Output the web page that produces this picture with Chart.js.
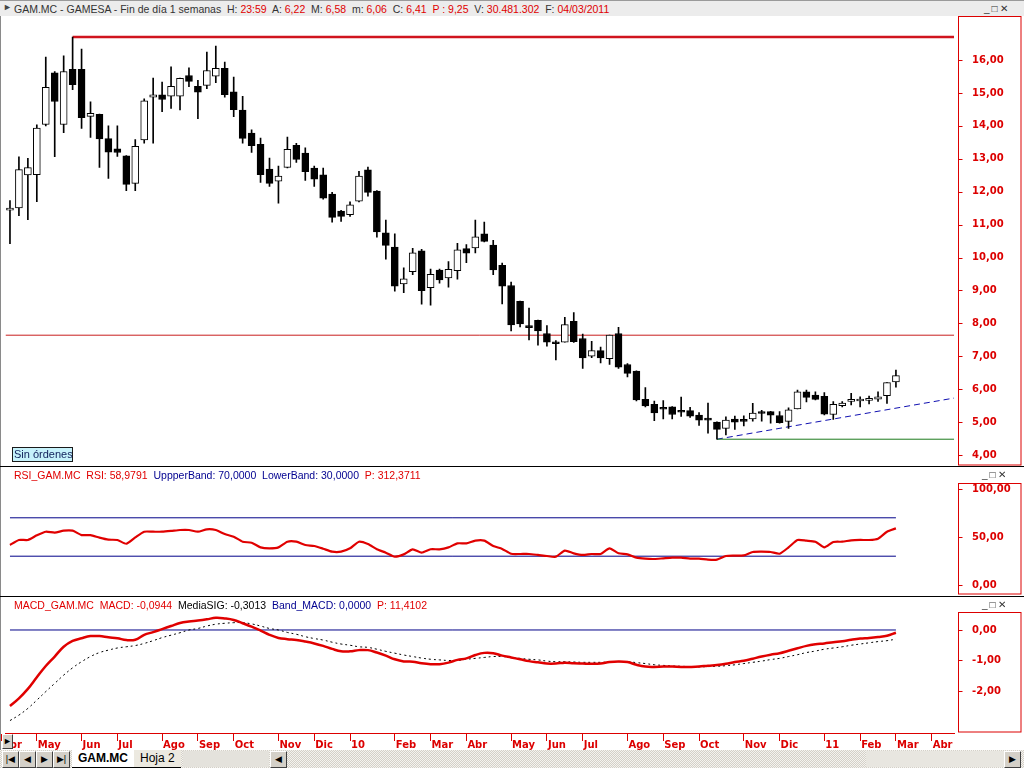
<!DOCTYPE html>
<html>
<head>
<meta charset="utf-8">
<script src="https://cdn.jsdelivr.net/npm/chart.js@4.4.1/dist/chart.umd.min.js"></script>
<style>
  body { margin: 0; width: 1024px; height: 768px; overflow: hidden; position: relative; background: #fff;
         font-family: "Liberation Sans", Arial, sans-serif; font-size: 10.5px; }
  .abs { position: absolute; }
  canvas { position: absolute; left: 0; }
  .r { color: #e00000; }
  .b { color: #000090; }
  .k { color: #000; }
  #hdr { left: 0; top: 0; width: 1024px; height: 15px; background: #ececec; border-top: 1px solid #9a9a9a; color: #333; }
  .title { white-space: pre; line-height: 12px; }
  .winbtn { width: 36px; height: 10px; font-size: 10px; line-height: 10px; color: #333; letter-spacing: 2px; }
  .sep { left: 0; width: 1024px; height: 1px; background: #000; }
  #sin { left: 12px; top: 447px; width: 58px; height: 13px; background: #c6f2fb; border: 1px solid #1a1a1a;
         color: #10205a; line-height: 13px; padding-left: 1px; white-space: nowrap; font-size: 11px; }
  #tabs { left: 0; top: 750px; width: 1024px; height: 18px;
          background: repeating-conic-gradient(#d4d0c8 0 25%, #f4f3ef 0 50%) 0 0 / 2px 2px; }
  .btn { top: 1px; width: 15px; height: 15px; background: #d4d0c8; border: 1px solid; border-color: #fff #404040 #404040 #fff;
         font-size: 9px; line-height: 15px; text-align: center; color: #000; }
  .tab { top: 0; height: 17px; line-height: 17px; font-size: 12px; padding: 0 6px; }
</style>
</head>
<body>
<div id="hdr" class="abs">
  <span class="abs" style="left:3px;top:1px;font-size:9px;color:#444">&#9658;</span>
  <span class="abs title" style="left:14px;top:2px">GAM.MC - GAMESA - Fin de día 1 semanas  H: <span class="r">23:59</span>  A: <span class="r">6,22</span>  M: <span class="r">6,58</span>  m: <span class="r">6,06</span>  C: <span class="r">6,41</span>  <span class="r">P : 9,25</span>  V: <span class="r">30.481.302</span>  F: <span class="r">04/03/2011</span></span>
  <span class="abs winbtn" style="left:984px;top:3px">_&#9633;&#10005;</span>
</div>
<div class="abs" style="left:0;top:16px;width:1px;height:734px;background:#8a8a8a"></div>

<canvas id="main" width="1024" height="450" style="top:16px"></canvas>
<div id="sin" class="abs">Sin órdenes</div>
<div class="abs sep" style="top:466px"></div>

<canvas id="rsi" width="1024" height="129" style="top:467px"></canvas>
<div class="abs title" style="left:14px;top:469px"><span class="r">RSI_GAM.MC  RSI: 58,9791</span>  <span class="b">UppperBand: 70,0000</span>  <span class="b">LowerBand: 30,0000</span>  <span class="r">P: 312,3711</span></div>
<span class="abs winbtn" style="left:982px;top:470px">_&#9633;&#10005;</span>
<div class="abs sep" style="top:596px"></div>

<canvas id="macd" width="1024" height="153" style="top:597px"></canvas>
<div class="abs title" style="left:14px;top:599px"><span class="r">MACD_GAM.MC  MACD: -0,0944</span>  <span class="k">MediaSIG: -0,3013</span>  <span class="b">Band_MACD: 0,0000</span>  <span class="r">P: 11,4102</span></div>
<span class="abs winbtn" style="left:982px;top:600px">_&#9633;&#10005;</span>
<div class="abs btn" style="left:2px;top:734px;width:9px;height:13px;line-height:13px">&#9658;</div>

<div id="tabs" class="abs">
  <div class="abs btn" style="left:2px">|&#9664;</div>
  <div class="abs btn" style="left:19px">&#9664;</div>
  <div class="abs btn" style="left:36px">&#9654;</div>
  <div class="abs btn" style="left:53px">&#9654;|</div>
  <div class="abs tab" style="left:72px;background:#fff;font-weight:bold;border-bottom:1px solid #000">GAM.MC</div>
  <div class="abs tab" style="left:134px;background:#ece9e0;border-bottom:1px solid #000">Hoja 2</div>
  <div class="abs" style="left:183px;top:1px;width:86px;height:16px;background:#e4e2dc"></div>
  <div class="abs btn" style="left:270px">&#9664;</div>
  <div class="abs" style="left:866px;top:1px;width:138px;height:16px;background:#e8e6e0"></div>
  <div class="abs btn" style="left:1004px">&#9654;</div>
</div>

<script>
// weekly candles, first one = week ending 10/04/2009, last one = week ending 04/03/2011
const opens  = [11.44,11.51,12.51,12.52,14.04,15.61,14.04,15.72,15.72,14.29,14.35,13.61,13.30,13.09,12.25,13.57,14.87,14.94,14.90,14.90,
                15.53,15.20,15.23,15.51,15.75,15.03,14.48,13.78,13.44,12.69,12.32,12.74,13.41,13.17,12.72,12.51,11.93,11.41,11.30,11.71,
                12.66,12.02,10.75,10.32,9.20,9.57,10.20,9.08,9.62,9.38,9.60,10.27,10.29,10.72,10.38,9.76,9.15,8.67,7.89,8.09,
                7.69,7.40,7.43,8.06,7.54,7.00,7.17,6.93,7.69,6.75,6.55,5.69,5.54,5.41,5.46,5.32,5.35,5.21,5.08,5.00,
                4.81,5.09,5.04,5.10,5.31,5.32,5.20,5.02,5.40,5.92,5.82,5.78,5.23,5.50,5.63,5.64,5.66,5.70,5.80,6.22];
const highs  = [11.73,13.06,13.01,14.03,16.09,15.65,16.13,16.70,16.33,14.73,14.36,14.00,14.00,13.10,13.58,14.82,15.45,15.33,15.79,15.45,
                15.76,15.38,16.24,16.42,15.94,15.48,14.90,13.88,13.63,13.02,12.78,13.66,13.47,13.33,12.78,12.72,11.98,11.43,11.69,12.62,
                12.75,12.03,11.14,10.72,9.69,10.28,10.25,9.65,9.65,9.88,10.43,10.39,11.14,11.08,10.52,9.83,9.25,8.68,8.46,8.10,
                7.93,7.48,8.18,8.33,7.67,7.45,7.28,7.64,7.88,6.78,6.56,6.05,5.64,5.65,5.47,5.76,5.45,5.29,5.58,5.01,
                5.16,5.18,5.19,5.57,5.36,5.33,5.32,5.43,5.97,5.97,5.92,5.90,5.62,5.62,5.87,5.77,5.79,5.92,6.20,6.58];
const lows   = [10.42,11.27,11.15,11.70,14.00,13.06,13.79,15.10,13.92,13.65,12.74,12.40,13.07,12.03,12.03,13.47,13.47,14.43,14.53,14.48,
                15.19,14.22,15.13,15.31,14.87,14.28,13.47,13.19,12.28,12.16,11.65,12.72,12.89,12.34,12.16,11.77,11.07,11.10,11.25,11.69,
                11.86,10.62,9.95,8.98,8.93,9.48,8.58,8.55,9.22,9.10,9.34,9.84,10.14,10.47,9.48,8.59,7.77,7.89,7.50,7.34,
                7.31,6.89,7.43,7.42,6.63,6.96,6.80,6.75,6.63,6.37,5.64,5.46,5.04,5.10,5.10,5.17,5.14,4.90,4.66,4.48,
                4.61,4.78,4.88,5.03,5.03,4.97,4.97,4.81,5.40,5.61,5.67,5.22,5.08,5.46,5.52,5.46,5.55,5.63,5.57,6.06];
const closes = [11.46,12.67,12.73,13.93,15.17,14.74,15.65,15.25,14.25,14.38,13.60,13.20,13.19,12.22,13.38,14.76,14.94,14.80,15.20,15.44,
                15.35,15.02,15.68,15.75,14.95,14.49,13.62,13.40,12.52,12.25,12.47,13.29,12.98,12.61,12.38,11.80,11.22,11.25,11.60,12.47,
                11.98,10.78,10.37,9.13,9.35,10.14,8.99,9.49,9.32,9.64,10.23,10.13,10.63,10.49,9.62,9.13,7.95,7.98,7.87,7.77,
                7.43,7.38,7.96,7.44,6.95,7.17,6.95,7.64,6.67,6.48,5.67,5.49,5.28,5.39,5.23,5.30,5.18,5.06,5.06,4.78,
                5.06,5.00,5.02,5.27,5.26,5.21,4.98,5.37,5.92,5.75,5.69,5.24,5.54,5.58,5.65,5.66,5.68,5.77,6.20,6.41];

const rsi = [41.7,46.9,46.9,51.7,55.5,54.5,56.6,56.6,52.0,52.0,49.3,47.2,46.9,43.0,49.6,55.5,55.5,55.5,56.3,57.3,
             57.3,55.5,58.0,57.3,53.1,50.3,45.1,44.0,39.2,38.2,39.2,45.1,45.1,41.7,40.6,37.8,34.7,34.7,38.2,45.1,
             42.7,37.2,33.7,29.5,31.9,37.2,33.7,37.2,37.2,39.2,43.4,43.4,46.2,46.2,40.6,37.6,32.5,32.3,32.3,31.3,
             30.2,29.5,35.8,33.0,31.3,32.3,32.3,38.2,33.0,31.9,28.5,27.4,27.1,27.8,28.5,28.5,27.4,27.4,26.4,26.4,
             30.2,30.6,30.9,34.4,34.7,34.4,32.6,39.2,46.9,46.2,45.1,39.2,44.8,45.1,46.5,46.9,46.9,48.3,55.5,59.0];
const rsiBands = [70, 30];

const macd = [-2.49,-2.24,-1.93,-1.55,-1.18,-0.87,-0.55,-0.36,-0.27,-0.20,-0.20,-0.24,-0.27,-0.33,-0.32,-0.16,-0.07,0.03,0.13,0.23,
              0.28,0.31,0.35,0.40,0.38,0.33,0.22,0.11,-0.02,-0.16,-0.26,-0.30,-0.33,-0.38,-0.44,-0.52,-0.62,-0.70,-0.70,-0.66,
              -0.66,-0.74,-0.84,-0.96,-1.03,-1.04,-1.09,-1.12,-1.12,-1.07,-0.98,-0.93,-0.82,-0.75,-0.76,-0.84,-0.90,-0.96,-1.02,-1.06,
              -1.10,-1.10,-1.07,-1.09,-1.10,-1.11,-1.10,-1.05,-1.03,-1.05,-1.14,-1.20,-1.21,-1.20,-1.20,-1.21,-1.21,-1.20,-1.17,-1.15,
              -1.11,-1.05,-1.01,-0.94,-0.87,-0.81,-0.76,-0.68,-0.60,-0.52,-0.47,-0.44,-0.40,-0.37,-0.32,-0.28,-0.26,-0.23,-0.19,-0.09];
const signal = [-2.97,-2.79,-2.57,-2.30,-2.02,-1.75,-1.48,-1.24,-1.04,-0.87,-0.74,-0.66,-0.59,-0.55,-0.51,-0.44,-0.35,-0.25,-0.17,-0.09,
                0.00,0.05,0.13,0.19,0.22,0.24,0.24,0.20,0.13,0.05,0.00,-0.08,-0.14,-0.22,-0.28,-0.33,-0.40,-0.46,-0.50,-0.55,
                -0.57,-0.63,-0.70,-0.76,-0.82,-0.87,-0.92,-0.96,-0.98,-1.00,-1.00,-0.96,-0.93,-0.90,-0.87,-0.87,-0.90,-0.93,-0.96,-0.98,
                -1.02,-1.04,-1.04,-1.05,-1.06,-1.06,-1.06,-1.05,-1.04,-1.04,-1.07,-1.10,-1.14,-1.16,-1.18,-1.19,-1.20,-1.21,-1.20,-1.19,
                -1.17,-1.14,-1.10,-1.06,-1.02,-0.97,-0.93,-0.87,-0.81,-0.74,-0.69,-0.63,-0.59,-0.55,-0.50,-0.46,-0.42,-0.38,-0.35,-0.30];
const macdBand = [0];

// drawn levels: [value at start, value at end]
const topLine = [16.70, 16.70];
const midLine = [7.64, 7.64];
const supportLine = [4.48, 4.48];
const trendLine = [4.48, 5.73];

const priceTicks = [4, 5, 6, 7, 8, 9, 10, 11, 12, 13, 14, 15, 16];
const rsiTicks = [0, 50, 100];
const macdTicks = [-2, -1, 0];
const monthNames = ['', 'Feb', 'Mar', 'Abr', 'May', 'Jun', 'Jul', 'Ago', 'Sep', 'Oct', 'Nov', 'Dic'];

const RED = '#dc0000';
const NAVY = '#000088';
const AXIS_FONT = { family: 'DejaVu Sans', size: 10, weight: 'bold' };

// week slots: slot 0 = Friday 03/04/2009, candles sit in slots 1..100, axis runs to slot 106
const weeks = [];
for (let k = 0; k <= 106; k++) weeks.push(new Date(Date.UTC(2009, 3, 3 + 7 * k)));
const monthTicks = {};
weeks.forEach((d, k) => {
  if (k === 0 || d.getUTCMonth() !== weeks[k - 1].getUTCMonth()) {
    const m = d.getUTCMonth();
    monthTicks[k] = m === 0 ? String(d.getUTCFullYear() % 100) : monthNames[m];
  }
});

const X_MIN = 0.5, X_MAX = 106.5;
const comma = (v) => v.toFixed(2).replace('.', ',');
const pts = (arr) => arr.map((v, i) => ({ x: i + 1, y: v }));

// red box round the value axis, with the small tick dashes
const axisBox = {
  id: 'axisBox',
  afterDraw(chart) {
    const { ctx, chartArea } = chart;
    const ys = chart.scales.y;
    const left = Math.round(chartArea.right) + 4.5;
    const top = Math.round(chartArea.top) + 0.5;
    ctx.save();
    ctx.strokeStyle = RED;
    ctx.lineWidth = 1;
    ctx.strokeRect(left, top, 1021 - left, Math.round(chartArea.bottom) - top - 1);
    ys.ticks.forEach(t => {
      const py = Math.round(ys.getPixelForValue(t.value)) + 0.5;
      ctx.beginPath();
      ctx.moveTo(left, py);
      ctx.lineTo(left + 4, py);
      ctx.stroke();
    });
    ctx.restore();
  }
};

function yAxis(min, max, ticks) {
  return {
    position: 'right', min, max,
    afterBuildTicks: (axis) => { axis.ticks = ticks.map(v => ({ value: v })); },
    afterFit: (axis) => { axis.width = 69.9; axis.paddingTop = 0; axis.paddingBottom = 0; },
    grid: { display: false },
    border: { display: false },
    ticks: { color: RED, font: AXIS_FONT, padding: 10, callback: comma }
  };
}

function baseOptions(padding, yOpts, xOpts) {
  return {
    responsive: false, animation: false, events: [],
    layout: { padding },
    plugins: { legend: { display: false }, tooltip: { enabled: false } },
    scales: {
      x: Object.assign({ type: 'linear', min: X_MIN, max: X_MAX, offset: false, display: false,
                         grid: { offset: false } }, xOpts || {}),
      y: yAxis(...yOpts)
    }
  };
}

// MAIN PRICE PANEL
const bodies = opens.map((o, i) => ({ x: i + 1, y: [o, closes[i]] }));
const wicks = lows.map((l, i) => ({ x: i + 1, y: [l, highs[i]] }));
const bodyColors = opens.map((o, i) => closes[i] >= o ? '#ffffff' : '#000000');

new Chart(document.getElementById('main'), {
  type: 'bar',
  data: {
    datasets: [
      { type: 'bar', data: bodies, backgroundColor: bodyColors, borderColor: '#000', borderWidth: 1,
        borderSkipped: false, barThickness: 7, minBarLength: 2, grouped: false, order: 0 },
      { type: 'bar', data: wicks, backgroundColor: '#000', barThickness: 1, grouped: false, order: 1 },
      { type: 'line', data: [{ x: 8, y: topLine[0] }, { x: X_MAX, y: topLine[1] }],
        borderColor: '#d0141e', borderWidth: 2.5, pointRadius: 0, order: 2 },
      { type: 'line', data: [{ x: X_MIN, y: midLine[0] }, { x: X_MAX, y: midLine[1] }],
        borderColor: '#c81e1e', borderWidth: 1, pointRadius: 0, order: 2 },
      { type: 'line', data: [{ x: 80, y: supportLine[0] }, { x: X_MAX, y: supportLine[1] }],
        borderColor: '#1b7a1b', borderWidth: 1, pointRadius: 0, order: 2 },
      { type: 'line', data: [{ x: 80, y: trendLine[0] }, { x: X_MAX, y: trendLine[1] }],
        borderColor: '#1010b0', borderWidth: 1, borderDash: [6, 4], pointRadius: 0, order: 2 }
    ]
  },
  options: baseOptions({ left: 5.5, top: 0, bottom: 0, right: 0 }, [3.666, 17.337, priceTicks]),
  plugins: [axisBox]
});

// RSI PANEL
new Chart(document.getElementById('rsi'), {
  type: 'line',
  data: {
    datasets: [
      { data: pts(rsi), borderColor: '#e00000', borderWidth: 2.2, pointRadius: 0, tension: 0.2 },
      { data: [{ x: 1, y: rsiBands[0] }, { x: 100, y: rsiBands[0] }], borderColor: NAVY, borderWidth: 1, pointRadius: 0 },
      { data: [{ x: 1, y: rsiBands[1] }, { x: 100, y: rsiBands[1] }], borderColor: NAVY, borderWidth: 1, pointRadius: 0 }
    ]
  },
  options: baseOptions({ left: 5.5, top: 16, bottom: 1, right: 0 }, [-10.42, 106.25, rsiTicks]),
  plugins: [axisBox]
});

// MACD PANEL + shared time axis
new Chart(document.getElementById('macd'), {
  type: 'line',
  data: {
    datasets: [
      { data: pts(macd), borderColor: '#e00000', borderWidth: 2.5, pointRadius: 0, tension: 0.4 },
      { data: pts(signal), borderColor: '#000', borderWidth: 1, borderDash: [2, 3], pointRadius: 0, tension: 0.4 },
      { data: [{ x: 1, y: macdBand[0] }, { x: 100, y: macdBand[0] }], borderColor: NAVY, borderWidth: 1, pointRadius: 0 }
    ]
  },
  options: baseOptions({ left: 5.5, top: 15, bottom: 0, right: 0 }, [-3.377, 0.590, macdTicks], {
    display: true, position: 'bottom',
    afterBuildTicks: (axis) => { axis.ticks = Object.keys(monthTicks).map(k => ({ value: Number(k) })); },
    afterFit: (axis) => { axis.height = 17; axis.paddingLeft = 0; axis.paddingRight = 0; },
    grid: { display: true, drawOnChartArea: false, drawTicks: true, tickLength: 8, color: RED, offset: false },
    border: { display: true, color: RED },
    ticks: { color: RED, font: AXIS_FONT, align: 'start', padding: -2, labelOffset: 1, maxRotation: 0, autoSkip: false,
             callback: (v) => monthTicks[v] }
  }),
  plugins: [axisBox]
});
</script>
</body>
</html>
